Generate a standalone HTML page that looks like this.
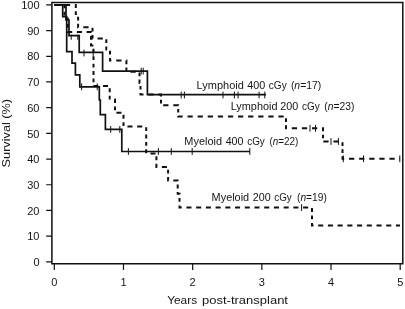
<!DOCTYPE html>
<html><head><meta charset="utf-8"><title>Survival</title>
<style>html,body{margin:0;padding:0;background:#fff}svg{display:block;filter:grayscale(1)}</style></head>
<body><svg width="405" height="309" viewBox="0 0 405 309">
<rect width="405" height="309" fill="#fff"/>
<g fill="none" stroke="#111" stroke-linecap="butt" stroke-linejoin="miter">
<path d="M51.9,263.7V2.6H402.8V263.7Z" stroke-width="1.5"/>
<path d="M46.2,261.80H51.9M46.2,236.11H51.9M46.2,210.42H51.9M46.2,184.73H51.9M46.2,159.04H51.9M46.2,133.35H51.9M46.2,107.66H51.9M46.2,81.97H51.9M46.2,56.28H51.9M46.2,30.59H51.9M46.2,4.90H51.9M54.30,263.7V270M123.48,263.7V270M192.66,263.7V270M261.84,263.7V270M331.02,263.7V270M400.20,263.7V270" stroke-width="1.2"/>
<path d="M54.30,4.90L66.00,4.90L66.00,20.00L69.00,20.00L69.00,35.60L79.20,35.60L79.20,52.30L102.60,52.30L102.60,71.10L147.40,71.10L147.40,94.70L266.00,94.70" stroke-width="1.7"/>
<path d="M54.30,4.90L62.70,4.90L62.70,16.60L66.70,16.60L66.70,51.60L72.00,51.60L72.00,63.20L75.40,63.20L75.40,74.90L79.80,74.90L79.80,86.80L99.30,86.80L99.30,100.00L100.30,100.00L100.30,114.60L105.40,114.60L105.40,129.40L121.80,129.40L121.80,151.50L250.00,151.50" stroke-width="1.7"/>
<path d="M54.73,4.90L59.98,4.90M64.83,4.90L70.08,4.90M74.93,4.90L75.80,4.90L75.80,7.95M75.80,11.33L75.80,14.99M78.10,16.77L78.10,20.43M78.10,23.81L78.10,27.20L78.49,27.20M83.34,27.20L88.59,27.20M92.50,27.85L92.50,31.51M92.50,34.89L92.50,38.40L92.72,38.40M97.57,38.40L102.82,38.40M106.30,39.35L106.30,43.02M106.30,46.39L106.30,49.60L106.95,49.60M110.00,50.86L110.00,54.52M110.00,57.90L110.00,60.60L111.37,60.60M116.22,60.60L121.47,60.60M126.32,60.60L126.40,60.60L126.40,64.20M126.40,67.58L126.40,71.24M130.45,71.80L135.70,71.80M139.50,72.53L139.50,76.19M139.50,79.57L139.50,83.00L139.84,83.00M140.50,85.92L140.50,89.58M140.50,92.96L140.50,94.50L143.54,94.50M148.38,94.50L153.64,94.50M158.48,94.50L161.00,94.50L161.00,96.41M161.00,99.79L161.00,103.45M163.19,105.30L168.44,105.30M173.29,105.30L178.20,105.30L178.20,105.54M178.20,108.92L178.20,112.58M178.20,115.96L178.20,116.50L182.67,116.50M187.52,116.50L192.77,116.50M197.62,116.50L202.87,116.50M207.72,116.50L212.97,116.50M217.82,116.50L223.07,116.50M227.92,116.50L233.17,116.50M238.02,116.50L243.27,116.50M248.12,116.50L253.37,116.50M258.22,116.50L263.47,116.50M268.32,116.50L273.57,116.50M278.42,116.50L283.67,116.50M286.00,118.26L286.00,121.92M286.00,125.30L286.00,128.30L286.95,128.30M291.79,128.30L297.05,128.30M301.89,128.30L307.15,128.30M311.99,128.30L317.25,128.30M322.09,128.30L323.00,128.30L323.00,131.33M323.00,134.71L323.00,138.37M323.36,141.50L328.61,141.50M333.46,141.50L338.71,141.50M342.50,142.24L342.50,145.90M342.50,149.28L342.50,152.94M342.50,156.32L342.50,158.80L344.19,158.80M349.04,158.80L354.29,158.80M359.14,158.80L364.39,158.80M369.24,158.80L374.49,158.80M379.34,158.80L384.59,158.80M389.44,158.80L394.69,158.80M399.54,158.80L400.00,158.80" stroke-width="2.0"/>
<path d="M54.30,4.90L59.09,4.90M63.76,4.90L64.50,4.90L64.50,8.18M64.50,11.73L64.50,15.58M65.46,18.40L67.80,18.40L67.80,20.47M67.80,24.02L67.80,27.87M67.80,31.42L67.80,31.90L72.23,31.90M76.89,31.90L81.95,31.90M86.61,31.90L91.00,31.90L91.00,32.41M91.00,35.96L91.00,39.81M91.00,43.36L91.00,45.40L93.37,45.40M93.50,48.86L93.50,52.70M93.50,56.26L93.50,60.10M93.50,63.66L93.50,67.50M93.50,71.06L93.50,74.90M93.50,78.46L93.50,82.30M93.50,85.86L93.50,86.00L98.37,86.00M103.03,86.00L108.09,86.00M109.70,88.32L109.70,92.17M109.70,95.72L109.70,99.57M114.33,99.60L115.00,99.60L115.00,102.94M115.00,106.49L115.00,110.34M116.43,112.80L121.48,112.80M123.50,114.82L123.50,118.66M123.50,122.22L123.50,126.06M127.46,126.60L132.52,126.60M137.18,126.60L142.24,126.60M146.20,127.13L146.20,130.98M146.20,134.53L146.20,138.38M146.20,141.93L146.20,145.78M146.20,149.33L146.20,153.18M150.45,153.50L155.50,153.50M156.40,156.37L156.40,160.22M156.40,163.77L156.40,167.00L157.21,167.00M161.88,167.00L166.93,167.00M168.10,169.66L168.10,173.51M168.10,177.06L168.10,180.50L168.64,180.50M173.30,180.50L177.70,180.50L177.70,181.00M177.70,184.55L177.70,188.40M177.70,191.95L177.70,193.80L179.50,193.80L179.50,194.43M179.50,197.98L179.50,201.83M179.50,205.38L179.50,207.50L181.77,207.50M186.44,207.50L191.49,207.50M196.16,207.50L201.21,207.50M205.88,207.50L210.93,207.50M215.60,207.50L220.65,207.50M225.32,207.50L230.37,207.50M235.04,207.50L240.09,207.50M244.76,207.50L249.81,207.50M254.48,207.50L259.53,207.50M264.20,207.50L269.25,207.50M273.92,207.50L278.97,207.50M283.64,207.50L288.69,207.50M293.36,207.50L298.41,207.50M303.08,207.50L308.13,207.50M312.00,208.11L312.00,211.96M312.00,215.51L312.00,219.36M312.00,222.91L312.00,225.60L313.52,225.60M318.18,225.60L323.24,225.60M327.90,225.60L332.96,225.60M337.62,225.60L342.68,225.60M347.34,225.60L352.40,225.60M357.06,225.60L362.12,225.60M366.78,225.60L371.84,225.60M376.50,225.60L381.56,225.60M386.22,225.60L391.28,225.60M395.94,225.60L400.00,225.60" stroke-width="2.0"/>
<path d="M71.20,34.60V39.80M77.80,34.60V39.80M84.00,49.60V56.40M93.20,49.60V56.40M141.20,67.70V74.50M143.20,67.70V74.50M181.20,91.60V98.40M184.40,91.60V98.40M223.00,91.60V98.40M234.40,91.60V98.40M238.10,91.60V98.40M259.10,91.60V98.40M264.80,91.60V98.40M81.60,83.40V90.20M97.20,83.40V90.20M110.70,126.00V132.80M119.80,126.00V132.80M128.40,148.10V154.90M158.40,148.10V154.90M171.30,148.10V154.90M192.20,148.10V154.90M249.80,148.10V154.90M310.00,124.90V131.70M315.50,124.90V131.70M331.00,138.10V144.90M338.40,138.10V144.90M343.30,155.40V162.20M363.50,155.40V162.20M399.80,155.40V162.20M301.60,204.10V210.90" stroke-width="1"/>
</g>
<g font-family="'Liberation Sans', sans-serif" fill="#151515">
<text x="39.5" y="266.00" font-size="11" text-anchor="end">0</text>
<text x="39.5" y="240.31" font-size="11" text-anchor="end">10</text>
<text x="39.5" y="214.62" font-size="11" text-anchor="end">20</text>
<text x="39.5" y="188.93" font-size="11" text-anchor="end">30</text>
<text x="39.5" y="163.24" font-size="11" text-anchor="end">40</text>
<text x="39.5" y="137.55" font-size="11" text-anchor="end">50</text>
<text x="39.5" y="111.86" font-size="11" text-anchor="end">60</text>
<text x="39.5" y="86.17" font-size="11" text-anchor="end">70</text>
<text x="39.5" y="60.48" font-size="11" text-anchor="end">80</text>
<text x="39.5" y="34.79" font-size="11" text-anchor="end">90</text>
<text x="39.5" y="9.10" font-size="11" text-anchor="end">100</text>
<text x="54.30" y="285.7" font-size="11" text-anchor="middle">0</text>
<text x="123.48" y="285.7" font-size="11" text-anchor="middle">1</text>
<text x="192.66" y="285.7" font-size="11" text-anchor="middle">2</text>
<text x="261.84" y="285.7" font-size="11" text-anchor="middle">3</text>
<text x="331.02" y="285.7" font-size="11" text-anchor="middle">4</text>
<text x="400.20" y="285.7" font-size="11" text-anchor="middle">5</text>
<text x="167.2" y="304.4" font-size="11.8" textLength="29.9" lengthAdjust="spacingAndGlyphs">Years</text><text x="202.0" y="304.4" font-size="11.8" textLength="86.0" lengthAdjust="spacingAndGlyphs">post-transplant</text>
<text transform="translate(10.4,167.4) rotate(-90)" font-size="11.6" textLength="68.5" lengthAdjust="spacingAndGlyphs">Survival (%)</text>
<text x="196.6" y="89.3" font-size="10.6" textLength="47.2" lengthAdjust="spacingAndGlyphs">Lymphoid</text><text x="247.2" y="89.3" font-size="10.6" textLength="18.0" lengthAdjust="spacingAndGlyphs">400</text><text x="268.8" y="89.3" font-size="10.6" textLength="17.9" lengthAdjust="spacingAndGlyphs">cGy</text><text x="290.9" y="89.3" font-size="10.6" textLength="30.4" lengthAdjust="spacingAndGlyphs">(<tspan font-style="italic">n</tspan>=17)</text>
<text x="230.7" y="110.2" font-size="10.6" textLength="46.8" lengthAdjust="spacingAndGlyphs">Lymphoid</text><text x="280.3" y="110.2" font-size="10.6" textLength="18.0" lengthAdjust="spacingAndGlyphs">200</text><text x="302.0" y="110.2" font-size="10.6" textLength="17.8" lengthAdjust="spacingAndGlyphs">cGy</text><text x="324.3" y="110.2" font-size="10.6" textLength="30.1" lengthAdjust="spacingAndGlyphs">(<tspan font-style="italic">n</tspan>=23)</text>
<text x="184.3" y="145.1" font-size="10.6" textLength="37.7" lengthAdjust="spacingAndGlyphs">Myeloid</text><text x="225.7" y="145.1" font-size="10.6" textLength="17.8" lengthAdjust="spacingAndGlyphs">400</text><text x="247.2" y="145.1" font-size="10.6" textLength="17.6" lengthAdjust="spacingAndGlyphs">cGy</text><text x="269.5" y="145.1" font-size="10.6" textLength="28.8" lengthAdjust="spacingAndGlyphs">(<tspan font-style="italic">n</tspan>=22)</text>
<text x="211.6" y="201" font-size="10.6" textLength="37.6" lengthAdjust="spacingAndGlyphs">Myeloid</text><text x="252.8" y="201" font-size="10.6" textLength="17.8" lengthAdjust="spacingAndGlyphs">200</text><text x="274.3" y="201" font-size="10.6" textLength="17.5" lengthAdjust="spacingAndGlyphs">cGy</text><text x="297.0" y="201" font-size="10.6" textLength="29.8" lengthAdjust="spacingAndGlyphs">(<tspan font-style="italic">n</tspan>=19)</text>
</g></svg></body></html>
